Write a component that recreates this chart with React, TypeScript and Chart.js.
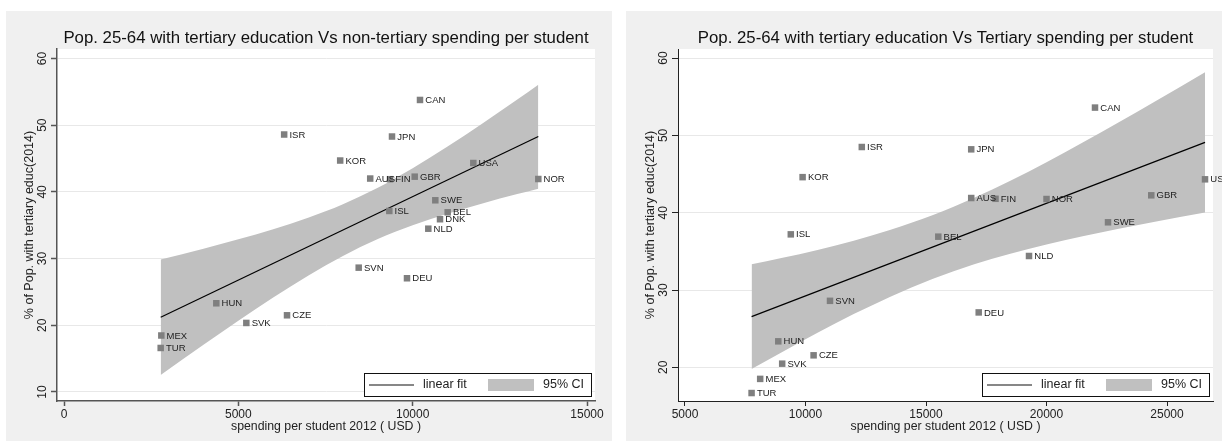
import React, { useEffect, useRef } from 'react';
import { Chart, registerables } from 'chart.js';

Chart.register(...registerables);

const FONT = '"Liberation Sans", Arial, Helvetica, sans-serif';

// ---------- Left chart: non-tertiary spending ----------
const title1 = 'Pop. 25-64 with tertiary education Vs non-tertiary spending per student';
const countries1 = ['CAN', 'ISR', 'JPN', 'KOR', 'AUS', 'FIN', 'GBR', 'USA', 'NOR', 'SWE', 'ISL', 'BEL', 'DNK', 'NLD', 'SVN', 'DEU', 'HUN', 'CZE', 'SVK', 'MEX', 'TUR'];
const spend1 = [10210, 6314, 9407, 7921, 8782, 9350, 10058, 11739, 13603, 10649, 9330, 11004, 10784, 10448, 8452, 9837, 4368, 6396, 5229, 2791, 2773];
const tert1 = [53.78, 48.6, 48.3, 44.7, 42.0, 41.9, 42.28, 44.33, 41.93, 38.74, 37.14, 36.94, 35.9, 34.48, 28.64, 27.05, 23.3, 21.5, 20.35, 18.47, 16.6];
const fitX1 = [2773, 13603];
const fitY1 = [21.2, 48.3];
const ciX1 = [2773, 4000, 5000, 6000, 7000, 8000, 9000, 10000, 11000, 12000, 13000, 13603];
const ciUpper1 = [29.85, 31.49, 32.88, 34.4, 36.12, 38.15, 40.62, 43.55, 46.8, 50.25, 53.84, 56.05];
const ciLower1 = [12.55, 17.09, 20.68, 24.16, 27.44, 30.39, 32.92, 34.99, 36.74, 38.27, 39.68, 40.48];
const xTicks1 = [0, 5000, 10000, 15000];
const yTicks1 = [10, 20, 30, 40, 50, 60];

// ---------- Right chart: tertiary spending ----------
const title2 = 'Pop. 25-64 with tertiary education Vs Tertiary spending per student';
const countries2 = ['CAN', 'ISR', 'JPN', 'KOR', 'AUS', 'FIN', 'NOR', 'GBR', 'USA', 'SWE', 'ISL', 'BEL', 'NLD', 'SVN', 'DEU', 'HUN', 'CZE', 'SVK', 'MEX', 'TUR'];
const spend2 = [22012, 12336, 16876, 9880, 16876, 17884, 20000, 24347, 26577, 22552, 9390, 15510, 19274, 11017, 17187, 8871, 10336, 9033, 8120, 7763];
const tert2 = [53.6, 48.5, 48.2, 44.6, 41.9, 41.8, 41.77, 42.25, 44.32, 38.76, 37.2, 36.9, 34.4, 28.6, 27.1, 23.36, 21.55, 20.47, 18.5, 16.67];
const fitX2 = [7763, 26577];
const fitY2 = [26.55, 49.1];
const ciX2 = [7763, 9000, 10500, 12000, 13500, 15292, 17000, 18500, 20000, 21500, 23000, 24500, 26577];
const ciUpper2 = [33.33, 34.13, 35.19, 36.38, 37.75, 39.69, 41.92, 44.14, 46.54, 49.08, 51.69, 54.38, 58.16];
const ciLower2 = [19.77, 21.93, 24.47, 26.88, 29.11, 31.45, 33.32, 34.7, 35.9, 36.96, 37.93, 38.84, 40.04];
const xTicks2 = [5000, 10000, 15000, 20000, 25000];
const yTicks2 = [20, 30, 40, 50, 60];

const yTitle = '% of Pop. with tertiary educ(2014)';
const xTitle = 'spending per student 2012 ( USD )';
const legendLine = 'linear fit';
const legendBand = '95% CI';

type PanelCfg = {
  title: string;
  countries: string[];
  spend: number[];
  tert: number[];
  fitX: number[];
  fitY: number[];
  ciX: number[];
  ciUpper: number[];
  ciLower: number[];
  xTicks: number[];
  yTicks: number[];
  xMin: number;
  xMax: number;
  yMin: number;
  yMax: number;
  width: number;
  left: number;
  plotLeft: number;
  plotRight: number;
  yTitlePad: number;
  axisColor: string;
  axisWidth: number;
};

const panels: PanelCfg[] = [
  {
    title: title1, countries: countries1, spend: spend1, tert: tert1,
    fitX: fitX1, fitY: fitY1, ciX: ciX1, ciUpper: ciUpper1, ciLower: ciLower1,
    xTicks: xTicks1, yTicks: yTicks1,
    xMin: -201, xMax: 15229, yMin: 8.65, yMax: 61.42,
    width: 606, left: 6, plotLeft: 51, plotRight: 589, yTitlePad: 16.5,
    axisColor: '#555555', axisWidth: 1.5,
  },
  {
    title: title2, countries: countries2, spend: spend2, tert: tert2,
    fitX: fitX2, fitY: fitY2, ciX: ciX2, ciUpper: ciUpper2, ciLower: ciLower2,
    xTicks: xTicks2, yTicks: yTicks2,
    xMin: 4710, xMax: 26908, yMin: 15.64, yMax: 61.18,
    width: 596, left: 626, plotLeft: 52, plotRight: 587, yTitlePad: 17.5,
    axisColor: '#222222', axisWidth: 1,
  },
];

const CANVAS_H = 430;
const PLOT_TOP = 38;
const PLOT_BOTTOM = 390;

function buildConfig(p: PanelCfg): any {
  const pts = p.spend.map((x, i) => ({ x, y: p.tert[i] }));
  const up = p.ciX.map((x, i) => ({ x, y: p.ciUpper[i] }));
  const lo = p.ciX.map((x, i) => ({ x, y: p.ciLower[i] }));
  const fit = p.fitX.map((x, i) => ({ x, y: p.fitY[i] }));

  const decor = {
    id: 'stataDecor',
    beforeDraw(chart: any) {
      const { ctx, chartArea } = chart;
      ctx.save();
      ctx.fillStyle = '#f0f0f0';
      ctx.fillRect(0, 0, chart.width, chart.height);
      ctx.fillStyle = '#ffffff';
      ctx.fillRect(chartArea.left, chartArea.top, chartArea.right - chartArea.left, chartArea.bottom - chartArea.top);
      ctx.restore();
    },
    afterDatasetsDraw(chart: any) {
      const { ctx } = chart;
      const meta = chart.getDatasetMeta(3);
      ctx.save();
      ctx.font = `9.5px ${FONT}`;
      ctx.fillStyle = '#222222';
      ctx.textAlign = 'left';
      ctx.textBaseline = 'middle';
      meta.data.forEach((el: any, i: number) => {
        ctx.fillText(p.countries[i], el.x + 5.3, el.y + 0.5);
      });
      ctx.restore();
    },
    afterDraw(chart: any) {
      const { ctx, chartArea } = chart;
      const ys = chart.scales.y;
      ctx.save();
      // title
      ctx.font = `16.8px ${FONT}`;
      ctx.fillStyle = '#111111';
      ctx.textAlign = 'center';
      ctx.textBaseline = 'middle';
      ctx.fillText(p.title, (chartArea.left + chartArea.right) / 2, 27.3);
      // rotated y tick labels
      ctx.font = `12px ${FONT}`;
      ctx.fillStyle = '#222222';
      ys.ticks.forEach((t: any) => {
        const y = ys.getPixelForValue(t.value);
        ctx.save();
        ctx.translate(chartArea.left - 14.5, y);
        ctx.rotate(-Math.PI / 2);
        ctx.textAlign = 'center';
        ctx.textBaseline = 'middle';
        ctx.fillText(String(t.value), 0, 0);
        ctx.restore();
      });
      // legend
      const bw = 227;
      const bh = 23;
      const L = chartArea.right - 4 - bw;
      const T = chartArea.bottom - 5 - bh;
      ctx.fillStyle = '#ffffff';
      ctx.fillRect(L, T, bw, bh);
      ctx.strokeStyle = '#111111';
      ctx.lineWidth = 1;
      ctx.strokeRect(Math.round(L) + 0.5, Math.round(T) + 0.5, bw, bh);
      ctx.beginPath();
      ctx.moveTo(L + 5, T + 12);
      ctx.lineTo(L + 50, T + 12);
      ctx.strokeStyle = '#111111';
      ctx.lineWidth = 1.2;
      ctx.stroke();
      ctx.fillStyle = '#c0c0c0';
      ctx.fillRect(L + 124, T + 6, 46, 12);
      ctx.font = `12.5px ${FONT}`;
      ctx.fillStyle = '#222222';
      ctx.textBaseline = 'middle';
      ctx.textAlign = 'left';
      ctx.fillText(legendLine, L + 59, T + 12);
      ctx.textAlign = 'right';
      ctx.fillText(legendBand, L + 220, T + 12);
      ctx.restore();
    },
  };

  return {
    type: 'line',
    data: {
      datasets: [
        {
          label: 'ci upper', data: up, fill: '+1', backgroundColor: '#c0c0c0',
          borderWidth: 0, pointRadius: 0, cubicInterpolationMode: 'monotone', order: 3,
        },
        {
          label: 'ci lower', data: lo, fill: false, borderWidth: 0,
          pointRadius: 0, cubicInterpolationMode: 'monotone', order: 2,
        },
        {
          label: legendLine, data: fit, fill: false, borderColor: '#000000',
          borderWidth: 1.2, pointRadius: 0, tension: 0, order: 1,
        },
        {
          label: 'countries', data: pts, showLine: false, pointStyle: 'rect',
          pointRadius: 4.6, pointBackgroundColor: '#7f7f7f', pointBorderWidth: 0, order: 0,
        },
      ],
    },
    options: {
      responsive: false,
      animation: false,
      devicePixelRatio: 1,
      events: [],
      layout: { padding: { left: 0, right: p.width - p.plotRight, top: PLOT_TOP, bottom: 0 } },
      plugins: { legend: { display: false }, tooltip: { enabled: false }, title: { display: false } },
      scales: {
        x: {
          type: 'linear',
          min: p.xMin,
          max: p.xMax,
          afterBuildTicks: (s: any) => { s.ticks = p.xTicks.map((v) => ({ value: v })); },
          afterFit: (s: any) => { s.height = CANVAS_H - PLOT_BOTTOM; },
          ticks: {
            autoSkip: false, maxRotation: 0, minRotation: 0, padding: 1.3,
            color: '#222222', font: { size: 12, family: FONT },
            callback: (v: any) => String(v),
          },
          grid: { drawOnChartArea: false, drawTicks: true, tickLength: 5, tickColor: p.axisColor, tickWidth: p.axisWidth },
          border: { display: true, color: p.axisColor, width: p.axisWidth },
          title: {
            display: true, text: xTitle, color: '#222222',
            font: { size: 12.3, family: FONT }, padding: { top: 0, bottom: 6.9 },
          },
        },
        y: {
          type: 'linear',
          min: p.yMin,
          max: p.yMax,
          afterBuildTicks: (s: any) => { s.ticks = p.yTicks.map((v) => ({ value: v })); },
          afterFit: (s: any) => { s.width = p.plotLeft; },
          ticks: { display: false },
          grid: { color: '#e8e8e8', lineWidth: 1, drawTicks: true, tickLength: 6, tickColor: p.axisColor, tickWidth: p.axisWidth },
          border: { display: true, color: p.axisColor, width: p.axisWidth },
          title: {
            display: true, text: yTitle, color: '#222222',
            font: { size: 12.5, family: FONT }, padding: { top: p.yTitlePad, bottom: 0 },
          },
        },
      },
    },
    plugins: [decor],
  };
}

function Panel({ cfg }: { cfg: PanelCfg }) {
  const ref = useRef<HTMLCanvasElement | null>(null);
  useEffect(() => {
    if (!ref.current) return;
    const chart = new Chart(ref.current, buildConfig(cfg));
    return () => chart.destroy();
  }, [cfg]);
  return (
    <canvas
      ref={ref}
      width={cfg.width}
      height={CANVAS_H}
      style={{ position: 'absolute', left: cfg.left, top: 11, width: cfg.width, height: CANVAS_H, display: 'block' }}
    />
  );
}

export default function App() {
  return (
    <div>
      {panels.map((p, i) => (
        <Panel key={i} cfg={p} />
      ))}
    </div>
  );
}
